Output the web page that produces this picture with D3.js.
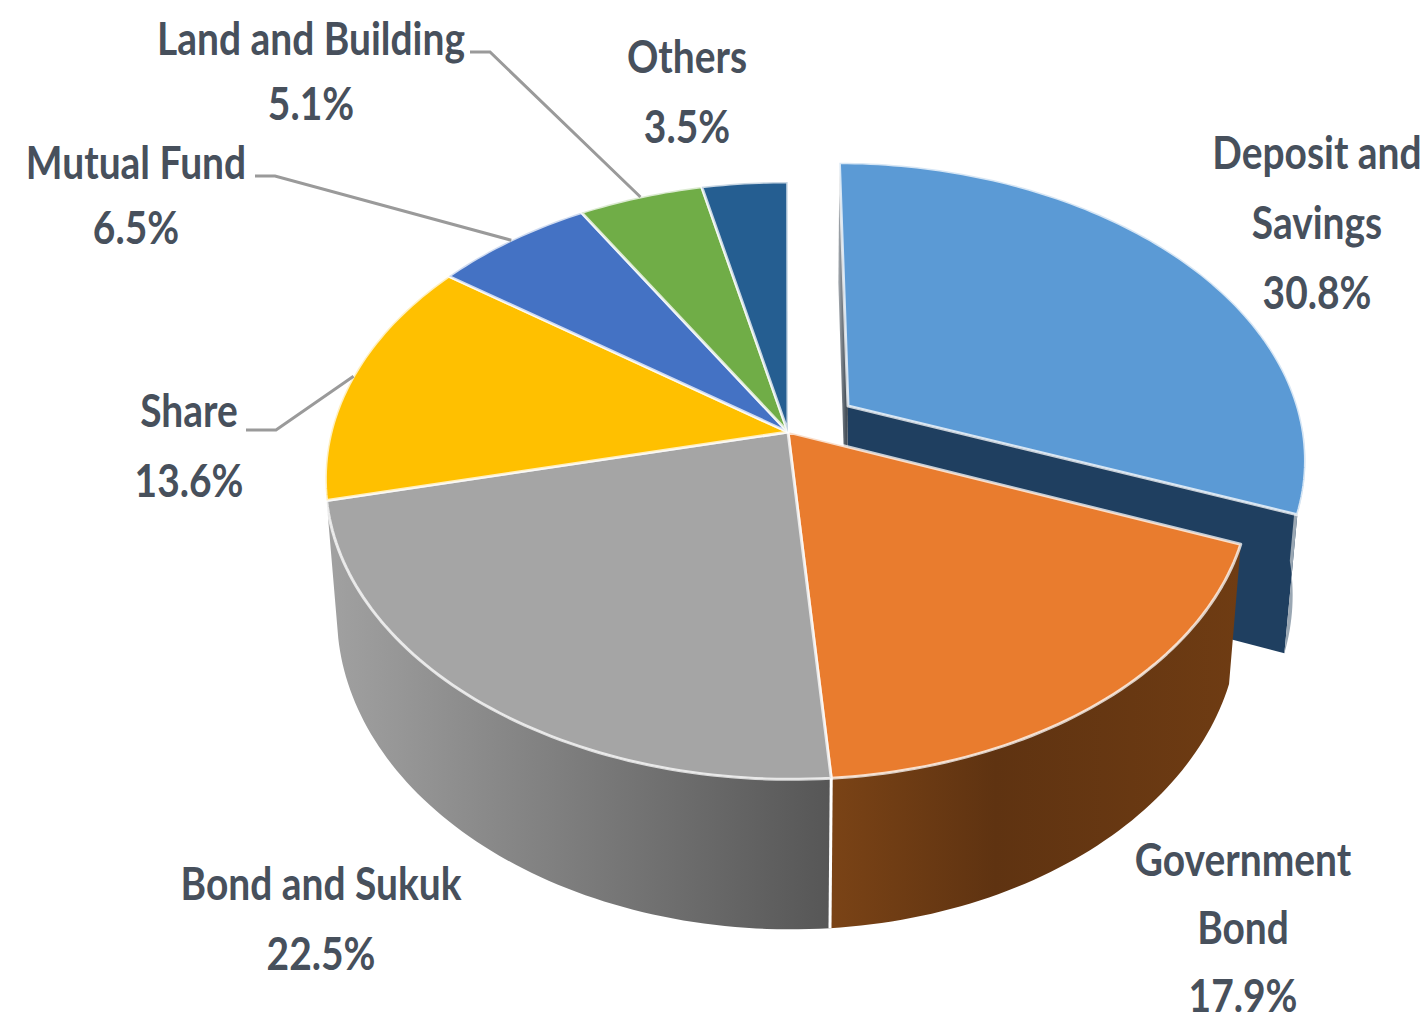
<!DOCTYPE html>
<html>
<head>
<meta charset="utf-8">
<script src="https://cdn.jsdelivr.net/npm/d3@7"></script>
<style>
  html, body { margin: 0; padding: 0; background: #fff; }
  svg { display: block; }
  text { font-family: Lato, "Open Sans", sans-serif; font-weight: 700; fill: #47505c; }
</style>
</head>
<body>
<svg id="chart" width="1426" height="1023"></svg>
<script>
// Portfolio shares, clockwise from twelve o'clock
const categories = ["Deposit and Savings", "Government Bond", "Bond and Sukuk", "Share", "Mutual Fund", "Land and Building", "Others"];
const shares = [30.8, 17.9, 22.5, 13.6, 6.5, 5.1, 3.5];
const sliceColors = ["#5b9ad5", "#e97c2e", "#a5a5a5", "#ffc000", "#4472c4", "#70ad47", "#255e91"];
const labelLines = [["Deposit and", "Savings"], ["Government", "Bond"], ["Bond and Sukuk"], ["Share"], ["Mutual Fund"], ["Land and Building"], ["Others"]];

// Label placement: centre x, first baseline and line pitch
const labelPlacement = [[1317, 169, 70], [1243, 876, 68], [321, 900, 70], [189, 427, 70], [136, 179, 65], [311, 55, 65], [687, 73, 70]];
const leaderStarts = { 3: [246, 430, 276], 4: [255, 176, 275], 5: [470, 52, 490] };

const svg = d3.select("#chart");

// Perspective camera on the disc: u to the right, v away from the viewer, z is depth below the top face
const cam = { a: 456.5, b: 128, c: 788, d: 1.6, e: -220.4, f: 432, h: 0.1629, q: 0.025, r: 148.8 };
function project(u, v, z = 0) {
  const w = 1 + cam.h * v + cam.q * z;
  return [
    (cam.a * u + cam.b * v + cam.c * (1 + cam.q * z)) / w,
    (cam.d * u + cam.e * v + cam.f + cam.r * z) / w
  ];
}

const explode = 0.162;
const pie = d3.pie().value(d => d).sort(null);
const slices = pie(shares).map((s, i) => {
  const mid = (s.startAngle + s.endAngle) / 2;
  const off = i === 0 ? explode : 0;
  return { ...s, i, mid, ou: off * Math.sin(mid), ov: off * Math.cos(mid) };
});

function rimPoint(s, angle, z = 0) {
  return project(s.ou + Math.sin(angle), s.ov + Math.cos(angle), z);
}
function rimPoints(s, a0, a1, z = 0) {
  const n = Math.max(2, Math.ceil(Math.abs(a1 - a0) / 0.02));
  return d3.range(n + 1).map(k => rimPoint(s, a0 + (a1 - a0) * k / n, z));
}
const hub = (s, z = 0) => project(s.ou, s.ov, z);
const closedPath = d3.line().curve(d3.curveLinearClosed);

// Gradients along the curved outer walls
const defs = svg.append("defs");
function wallGradient(id, stops, x1, x2) {
  const g = defs.append("linearGradient").attr("id", id)
    .attr("gradientUnits", "userSpaceOnUse")
    .attr("x1", x1).attr("x2", x2).attr("y1", 0).attr("y2", 0);
  stops.forEach(([o, c]) => g.append("stop").attr("offset", o).attr("stop-color", c));
}
wallGradient("wallGrey", [[0, "#a0a0a0"], [0.45, "#7f7f7f"], [1, "#565656"]], 335, 832);
wallGradient("wallBrown", [[0, "#7a4316"], [0.4, "#5f3311"], [1, "#6f3c13"]], 832, 1240);
wallGradient("wallEdge", [[0, "#c4c8cc"], [1, "#46505a"]], 836, 846);

const walls = svg.append("g");
const tops = svg.append("g");

// The pulled-out slice shows its cut faces behind the rest of the pie
const pulled = slices[0];
walls.append("path")
  .attr("d", closedPath([hub(pulled), rimPoint(pulled, pulled.endAngle), rimPoint(pulled, pulled.endAngle, 1), hub(pulled, 1)]))
  .attr("fill", "#1f3f60");
walls.append("path")
  .attr("d", closedPath([hub(pulled), rimPoint(pulled, pulled.startAngle), rimPoint(pulled, pulled.startAngle, 1), hub(pulled, 1)]))
  .attr("fill", "url(#wallEdge)");
walls.append("path")
  .attr("d", closedPath([...rimPoints(pulled, pulled.endAngle - 0.3, pulled.endAngle), ...rimPoints(pulled, pulled.endAngle, pulled.endAngle - 0.3, 1)]))
  .attr("fill", "#9aa7b3");

// Outer walls of the two front slices
[[1, "url(#wallBrown)"], [2, "url(#wallGrey)"]].forEach(([i, fill]) => {
  const s = slices[i];
  walls.append("path")
    .attr("d", closedPath([...rimPoints(s, s.startAngle, s.endAngle), ...rimPoints(s, s.endAngle, s.startAngle, 1)]))
    .attr("fill", fill);
});
{
  const s = slices[2];
  walls.append("path")
    .attr("d", d3.line()([rimPoint(s, s.startAngle), rimPoint(s, s.startAngle, 1)]))
    .attr("stroke", "#fff").attr("stroke-width", 3).attr("fill", "none");
}

// Top faces, deposit first so the remaining slices overlap its cut face
tops.selectAll("path").data(slices).join("path")
  .attr("d", s => closedPath([hub(s), ...rimPoints(s, s.startAngle, s.endAngle)]))
  .attr("fill", s => sliceColors[s.i])
  .attr("stroke", "#fff").attr("stroke-opacity", 0.75)
  .attr("stroke-width", 3).attr("stroke-linejoin", "round");

// Leader lines run from the label to the middle of the slice rim
const leaders = svg.append("g").attr("fill", "none").attr("stroke", "#9a9a9a").attr("stroke-width", 3);
Object.entries(leaderStarts).forEach(([i, [x0, y0, x1]]) => {
  const s = slices[+i];
  leaders.append("path").attr("d", d3.line()([[x0, y0], [x1, y0], rimPoint(s, s.mid)]));
});

// Two or three stacked lines per label, the last one always the share
const percent = d3.format(".1f");
const labels = svg.append("g").attr("font-size", 45).attr("text-anchor", "middle");
slices.forEach(s => {
  const [cx, y0, pitch] = labelPlacement[s.i];
  const lines = [...labelLines[s.i], percent(shares[s.i]) + "%"];
  lines.forEach((line, k) => {
    labels.append("text")
      .attr("transform", `translate(${cx},${y0 + k * pitch}) scale(0.865,1)`)
      .text(line);
  });
});
</script>
</body>
</html>
